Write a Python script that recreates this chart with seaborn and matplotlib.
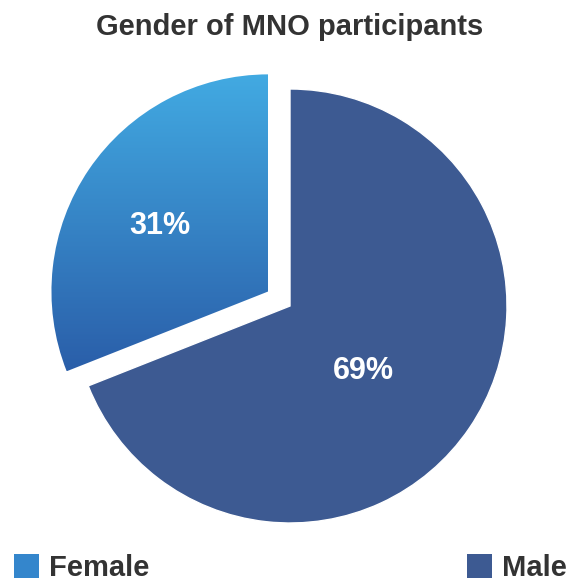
import numpy as np
import matplotlib.pyplot as plt
import seaborn as sns
from matplotlib.colors import LinearSegmentedColormap
from matplotlib.patches import Patch

# data
genders = ["Male", "Female"]
shares = [69, 31]
male_color = "#3d5a92"
female_top = "#42aae2"
female_bottom = "#2a5ea9"

sns.set_theme(style="white")
plt.rcParams["font.family"] = ["Liberation Sans", "DejaVu Sans"]

fig = plt.figure(figsize=(5.68, 5.82), dpi=100)
# pie centre ~ (290, 306) px, radius ~217 px
px = 217.0
left, top = 290 - 1.3 * px, 306 - 1.2 * px
ax = fig.add_axes([left / 568, 1 - (top + 2.4 * px) / 582, 2.6 * px / 568, 2.4 * px / 582])

wedges, _, autotexts = ax.pie(
    shares, explode=[0, 0.12], startangle=90, counterclock=False,
    colors=[male_color, "none"], autopct="%d%%", pctdistance=0.5,
    textprops=dict(color="white", fontsize=22, fontweight="bold"),
)
ax.set_xlim(-1.3, 1.3)
ax.set_ylim(-1.2, 1.2)
ax.set_aspect("auto")
ax.axis("off")

# gradient fill for the female slice
fw = wedges[1]
ext = fw.get_path().get_extents()
cmap = LinearSegmentedColormap.from_list("fem", [female_bottom, female_top])
grad = np.linspace(0, 1, 256).reshape(-1, 1)
im = ax.imshow(grad, cmap=cmap, origin="lower", aspect="auto",
               extent=[ext.x0, ext.x1, ext.y0, ext.y1], zorder=1)
im.set_clip_path(fw)

# label placement: (distance, angle tweak) per slice, baseline-anchored
for w, t, (d, da) in zip(wedges, autotexts, [(0.475, -10.8), (0.567, 6.5)]):
    mid = np.deg2rad((w.theta1 + w.theta2) / 2 + da)
    cx, cy = w.center
    t.set_position((cx + d * np.cos(mid), cy + d * np.sin(mid)))
    t.set_va("baseline")
    t.set_zorder(3)

fig.text(290 / 568, 1 - 35 / 582, "Gender of MNO participants", ha="center",
         va="baseline", fontsize=21, fontweight="bold", color="#333333")

leg_kw = dict(frameon=False, borderpad=0, borderaxespad=0,
              handlelength=0.85, handleheight=0.85, handletextpad=0.35,
              bbox_transform=fig.transFigure, prop=dict(weight="bold", size=21))
h_f = Patch(facecolor="#3486cc", edgecolor="none", label="Female")
h_m = Patch(facecolor=male_color, edgecolor="none", label="Male")
l1 = fig.legend(handles=[h_f], loc="lower left", bbox_to_anchor=(14 / 568, 0.0), **leg_kw)
for t in l1.get_texts():
    t.set_color("#333333")
l2 = fig.legend(handles=[h_m], loc="lower right", bbox_to_anchor=(567 / 568, 0.0), **leg_kw)
for t in l2.get_texts():
    t.set_color("#333333")

fig.savefig("out.png", dpi=100, facecolor="white")
